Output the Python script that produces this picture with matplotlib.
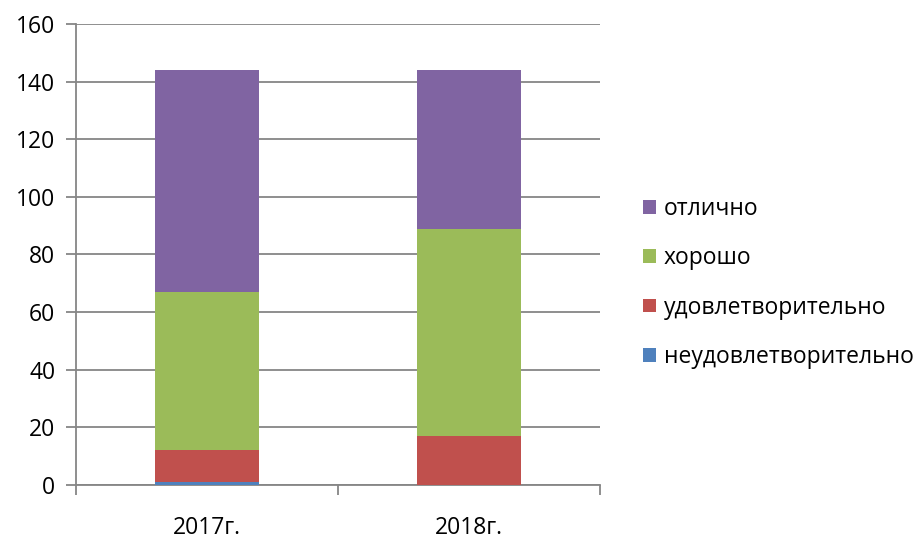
import matplotlib.pyplot as plt
import numpy as np

years = ['2017г.', '2018г.']
neud = [1, 0]
udovl = [11, 17]
horosho = [55, 72]
otlichno = [77, 55]

labels = ['неудовлетворительно', 'удовлетворительно', 'хорошо', 'отлично']
colors = ['#4f81bd', '#c0504d', '#9bbb59', '#8064a2']
series = [neud, udovl, horosho, otlichno]

plt.rcParams['font.family'] = ['Open Sans', 'DejaVu Sans']

fig = plt.figure(figsize=(9.16, 5.38), dpi=100)
ax = fig.add_axes([0.083, 0.0985, 0.572, 0.857])

x = np.arange(len(years))
bottom = np.zeros(len(years))
handles = []
for vals, lab, col in zip(series, labels, colors):
    b = ax.bar(x, vals, 0.4, bottom=bottom, color=col, label=lab, zorder=3)
    handles.append(b)
    bottom += np.array(vals)

ax.set_xlim(-0.5, 1.5)
ax.set_ylim(0, 160)
ax.set_yticks(range(0, 161, 20))
ax.yaxis.grid(True, color='#868686', linewidth=1.3, zorder=0)
ax.tick_params(axis='y', length=7, width=1.3, color='#868686', labelsize=16.5, pad=8)

ax.set_xticks(x)
ax.set_xticklabels(years, fontsize=16.5)
ax.tick_params(axis='x', length=0, pad=22)
ax.set_xticks([-0.5, 0.5, 1.5], minor=True)
ax.tick_params(axis='x', which='minor', length=7, width=1.3, color='#868686')

for s in ['top', 'right']:
    ax.spines[s].set_visible(False)
for s in ['left', 'bottom']:
    ax.spines[s].set_color('#868686')
    ax.spines[s].set_linewidth(1.3)

ax.legend(handles[::-1], labels[::-1], loc='center left',
          bbox_to_anchor=(643 / 916, 1 - 283 / 538), bbox_transform=fig.transFigure,
          frameon=False, fontsize=16.5, handlelength=0.55, handleheight=0.55,
          handletextpad=0.35, labelspacing=1.1, borderpad=0, borderaxespad=0)

fig.savefig('out.png', dpi=100)
